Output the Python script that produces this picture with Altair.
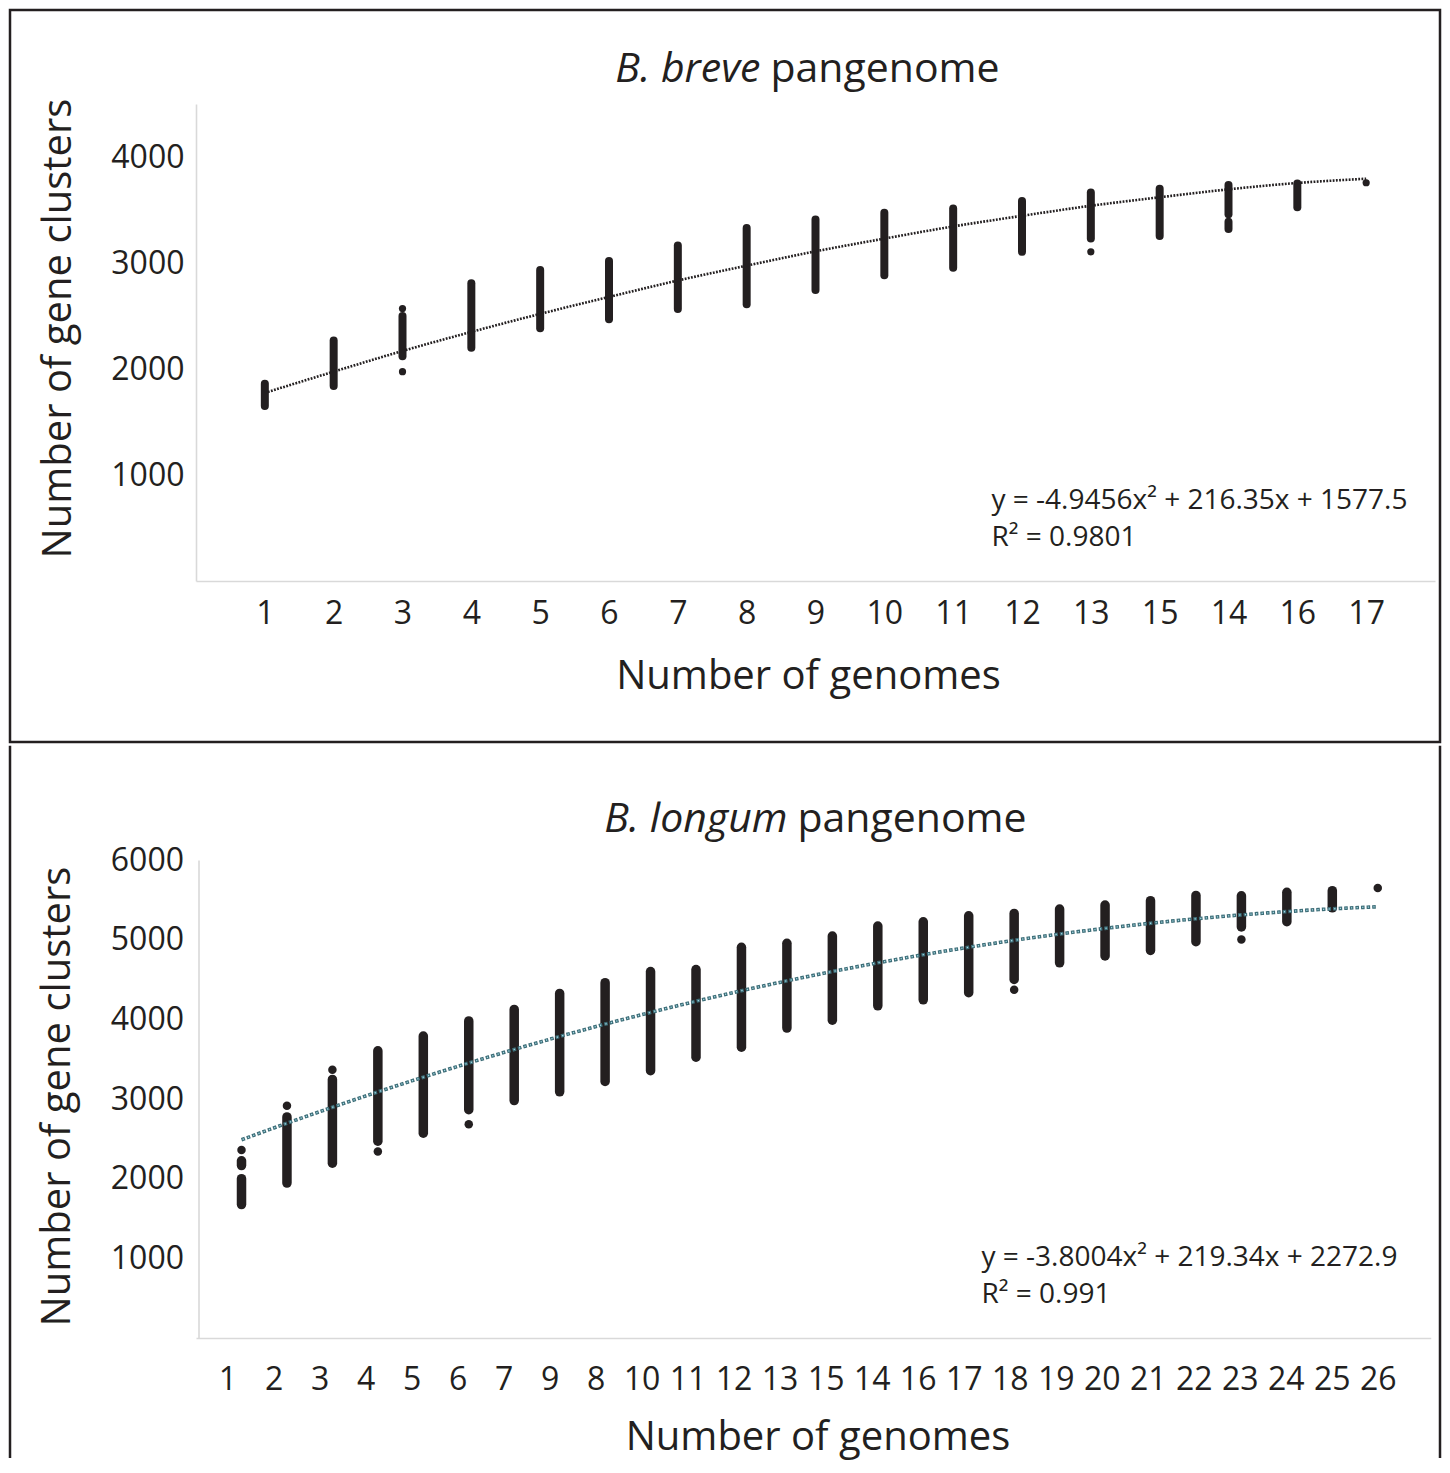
import json
import altair as alt
import pandas as pd

FONT = "Open Sans"
INK = "#231f20"
GREY = "#d9d9d9"

# ---------------- B. breve (top panel) ----------------
breve_tick_labels = ["1", "2", "3", "4", "5", "6", "7", "8", "9", "10", "11",
                     "12", "13", "15", "14", "16", "17"]
breve_seg_pos = [1, 2, 3, 4, 5, 6, 7, 8, 9, 10, 11, 12, 13, 14, 15, 15, 16]
breve_seg_lo = [1650, 1840, 2120, 2200, 2385, 2470, 2565, 2610, 2745, 2885,
                2955, 3105, 3230, 3255, 3460, 3320, 3525]
breve_seg_hi = [1860, 2270, 2500, 2810, 2935, 3020, 3165, 3330, 3410, 3475,
                3515, 3585, 3665, 3700, 3735, 3390, 3750]
breve_pt_pos = [3, 3, 13, 17]
breve_pt_val = [2570, 1975, 3105, 3757]
breve_trend_pos = list(range(1, 18))
breve_trend_val = [1775, 1975, 2170, 2350, 2520, 2680, 2835, 2975, 3110, 3230,
                   3345, 3445, 3540, 3620, 3695, 3755, 3795]
breve_y_ticks = [1000, 2000, 3000, 4000]
breve_title_it = "B. breve"
breve_title_rest = "pangenome"
breve_equation = "y = -4.9456x² + 216.35x + 1577.5"
breve_r2 = "R² = 0.9801"

# ---------------- B. longum (bottom panel) ----------------
longum_tick_labels = ["1", "2", "3", "4", "5", "6", "7", "9", "8", "10", "11",
                      "12", "13", "15", "14", "16", "17", "18", "19", "20",
                      "21", "22", "23", "24", "25", "26"]
longum_seg_pos = [1, 1, 2, 3, 4, 5, 6, 7, 8, 9, 10, 11, 12, 13, 14, 15, 16,
                  17, 18, 19, 20, 21, 22, 23, 24, 25]
longum_seg_lo = [1675, 2165, 1945, 2195, 2470, 2570, 2865, 2980, 3090, 3220,
                 3355, 3525, 3650, 3890, 3990, 4170, 4245, 4335, 4500, 4710,
                 4795, 4865, 4975, 5160, 5225, 5400]
longum_seg_hi = [2000, 2225, 2775, 3245, 3605, 3790, 3980, 4125, 4325, 4460,
                 4600, 4625, 4905, 4955, 5045, 5170, 5225, 5300, 5330, 5385,
                 5435, 5490, 5555, 5550, 5595, 5615]
longum_pt_pos = [1, 2, 3, 4, 6, 18, 23, 26]
longum_pt_val = [2360, 2915, 3367, 2340, 2683, 4370, 5003, 5648]
longum_trend_pos = list(range(1, 27))
longum_trend_val = [2488, 2696, 2896, 3089, 3274, 3452, 3622, 3785, 3940, 4087,
                    4227, 4359, 4483, 4600, 4709, 4811, 4905, 4992, 5071, 5142,
                    5206, 5262, 5311, 5353, 5387, 5413]
longum_y_ticks = [1000, 2000, 3000, 4000, 5000, 6000]
longum_title_it = "B. longum"
longum_title_rest = "pangenome"
longum_equation = "y = -3.8004x² + 219.34x + 2272.9"
longum_r2 = "R² = 0.991"

X_TITLE = "Number of genomes"
Y_TITLE = "Number of gene clusters"

ONE = alt.Data(values=[{}])


def label_expr(labels):
    return json.dumps(labels) + "[datum.value - 1]"


def text_mark(txt, x, y, size, italic=False, align="left"):
    kw = dict(text=txt, font=FONT, fontSize=size, align=align,
              baseline="alphabetic", color=INK)
    if italic:
        kw["fontStyle"] = "italic"
    return alt.Chart(ONE).mark_text(**kw).encode(x=alt.value(x), y=alt.value(y))


# ---------------- top panel ----------------
W1, H1 = 1239, 477
xs1 = alt.Scale(domain=[0, 18], nice=False, zero=False)
ys1 = alt.Scale(domain=[0, 4500], nice=False)
xax1 = alt.Axis(title=X_TITLE, values=list(range(1, 18)),
                labelExpr=label_expr(breve_tick_labels), grid=False,
                ticks=False, tickSize=0, domainColor=GREY, domainWidth=1.6,
                labelFontSize=32, labelPadding=42, labelBaseline="alphabetic",
                labelOverlap=False, labelFlush=False, titleFontSize=40,
                titleX=612, titleY=107, titleBaseline="alphabetic")
yax1 = alt.Axis(title=Y_TITLE, values=breve_y_ticks, format="d", grid=False,
                ticks=False, tickSize=0, domainColor=GREY, domainWidth=1.6,
                labelFontSize=32, labelPadding=12, titleFontSize=40,
                titleX=-125.5, titleY=224, titleBaseline="alphabetic",
                titleAngle=270, titleAlign="center")

seg1 = pd.DataFrame({"pos": breve_seg_pos, "lo": breve_seg_lo, "hi": breve_seg_hi})
pt1 = pd.DataFrame({"pos": breve_pt_pos, "val": breve_pt_val})
tr1 = pd.DataFrame({"pos": breve_trend_pos, "val": breve_trend_val})

frame1 = alt.Chart(ONE).mark_rect(fill="white", fillOpacity=0, stroke=INK,
                                  strokeWidth=2.5).encode(
    x=alt.value(-186), x2=alt.value(1244), y=alt.value(-94), y2=alt.value(638))
rules1 = alt.Chart(seg1).mark_rule(strokeWidth=8, strokeCap="round", color=INK).encode(
    x=alt.X("pos:Q", scale=xs1, axis=xax1),
    y=alt.Y("lo:Q", scale=ys1, axis=yax1), y2="hi:Q")
pts1 = alt.Chart(pt1).mark_circle(size=52, color=INK, opacity=1).encode(
    x=alt.X("pos:Q", scale=xs1, axis=xax1),
    y=alt.Y("val:Q", scale=ys1, axis=yax1))
trend1 = alt.Chart(tr1).mark_line(color=INK, strokeWidth=2.6, strokeDash=[1.8, 1.4],
                                  interpolate="monotone").encode(
    x=alt.X("pos:Q", scale=xs1, axis=xax1),
    y=alt.Y("val:Q", scale=ys1, axis=yax1))

panel1 = alt.layer(
    frame1, rules1, pts1, trend1,
    text_mark(breve_title_it, 564.5, -22, 41, italic=True, align="right"),
    text_mark(breve_title_rest, 574.5, -22, 41),
    text_mark(breve_equation, 795.5, 405, 28),
    text_mark(breve_r2, 795.5, 442, 28),
).properties(width=W1, height=H1)

# ---------------- bottom panel ----------------
W2, H2 = 1234.75, 478
xs_data = alt.Scale(domain=[-0.0013, 27.166], nice=False, zero=False)
xs_axis = alt.Scale(domain=[0.3152, 27.152], nice=False, zero=False)
ys2 = alt.Scale(domain=[0, 6000], nice=False)
xax2 = alt.Axis(title=X_TITLE, orient="bottom", values=list(range(1, 27)),
                labelExpr=label_expr(longum_tick_labels), grid=False,
                ticks=False, tickSize=0, domainColor=GREY, domainWidth=1.6,
                labelFontSize=32, labelPadding=51, labelBaseline="alphabetic",
                labelOverlap=False, labelFlush=False, titleFontSize=40,
                titleX=621.5, titleY=111, titleBaseline="alphabetic")
yax2 = alt.Axis(title=Y_TITLE, values=longum_y_ticks, format="d", grid=False,
                ticks=False, tickSize=0, domainColor=GREY, domainWidth=1.6,
                offset=-2.5, labelFontSize=32, labelPadding=15, titleFontSize=40,
                titleX=-129, titleY=236, titleBaseline="alphabetic",
                titleAngle=270, titleAlign="center")

seg2 = pd.DataFrame({"pos": longum_seg_pos, "lo": longum_seg_lo, "hi": longum_seg_hi})
pt2 = pd.DataFrame({"pos": longum_pt_pos, "val": longum_pt_val})
tr2 = pd.DataFrame({"pos": longum_trend_pos, "val": longum_trend_val})
ax2 = pd.DataFrame({"pos": list(range(1, 27)), "val": [0] * 26})

side_l = alt.Chart(ONE).mark_rule(color=INK, strokeWidth=2.5).encode(
    x=alt.value(-186), y=alt.value(-114.25), y2=alt.value(598))
side_r = alt.Chart(ONE).mark_rule(color=INK, strokeWidth=2.5).encode(
    x=alt.value(1244), y=alt.value(-114.25), y2=alt.value(598))
axis_layer = alt.Chart(ax2).mark_point(opacity=0).encode(
    x=alt.X("pos:Q", scale=xs_axis, axis=xax2),
    y=alt.Y("val:Q", scale=ys2, axis=yax2))
rules2 = alt.Chart(seg2).mark_rule(strokeWidth=9.5, strokeCap="round", color=INK).encode(
    x=alt.X("pos:Q", scale=xs_data, axis=None),
    y=alt.Y("lo:Q", scale=ys2, axis=yax2), y2="hi:Q")
pts2 = alt.Chart(pt2).mark_circle(size=72, color=INK, opacity=1).encode(
    x=alt.X("pos:Q", scale=xs_data, axis=None),
    y=alt.Y("val:Q", scale=ys2, axis=yax2))
trend2a = alt.Chart(tr2).mark_line(color="#3e6e78", strokeWidth=3.6,
                                   strokeDash=[3.6, 2.0], interpolate="monotone").encode(
    x=alt.X("pos:Q", scale=xs_data, axis=None),
    y=alt.Y("val:Q", scale=ys2, axis=yax2))
trend2b = alt.Chart(tr2).mark_line(color="#a6dbe8", strokeWidth=1.3,
                                   strokeDash=[1.2, 4.4], strokeDashOffset=-1.2,
                                   interpolate="monotone").encode(
    x=alt.X("pos:Q", scale=xs_data, axis=None),
    y=alt.Y("val:Q", scale=ys2, axis=yax2))

panel2 = alt.layer(
    side_l, side_r, axis_layer, rules2, pts2, trend2a, trend2b,
    text_mark(longum_title_it, 591.5, -28, 41, italic=True, align="right"),
    text_mark(longum_title_rest, 601.5, -28, 41),
    text_mark(longum_equation, 785.5, 406, 28),
    text_mark(longum_r2, 785.5, 443, 28),
).resolve_scale(x="independent").properties(width=W2, height=H2)

chart = alt.VConcatChart(
    vconcat=[panel1, panel2], spacing=0, padding=0, background="white"
).configure_view(strokeWidth=0).configure_axis(
    labelFont=FONT, titleFont=FONT, labelColor=INK, titleColor=INK,
    titleFontWeight="normal"
)

chart.save("out.html", embed_options={"renderer": "svg", "actions": False})
